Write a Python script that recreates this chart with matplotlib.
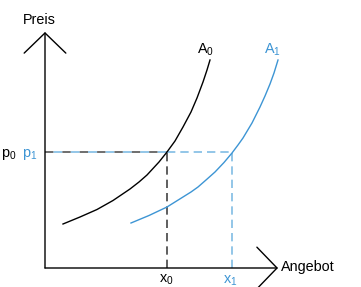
import matplotlib
matplotlib.use("Agg")
import matplotlib.pyplot as plt
import numpy as np

plt.rcParams['font.family'] = ['Liberation Sans', 'DejaVu Sans']
plt.rcParams['mathtext.fontset'] = 'custom'
plt.rcParams['mathtext.rm'] = 'Liberation Sans'
plt.rcParams['mathtext.it'] = 'Liberation Sans'
plt.rcParams['lines.scale_dashes'] = False

# supply curves (quantity, price)
a0_q = [18, 35, 52, 68, 85, 94, 102, 108, 114, 122, 130, 138, 146, 152, 158, 162, 165]
a0_p = [44, 51, 58.5, 67.5, 79, 86, 93, 99.5, 106, 116, 127, 141, 156, 170, 186, 198, 208]
a1_q = [86, 104, 122, 138, 146, 153, 161, 170, 179, 187, 193, 198, 207, 215, 220, 225, 229, 233]
a1_p = [45, 52.5, 61, 71, 76, 81, 88, 96, 105.5, 115, 123, 130, 145, 161, 172, 184, 195, 208]

# equilibrium values
p_star = 116
x0 = 122
x1 = 187

q_max = 233
p_max = 236

blue = '#3d95d4'
light_blue = '#93c6e8'
gray = '#6e6e6e'
dark = '#333333'

fig = plt.figure(figsize=(3.61, 2.87), dpi=100)
ax = fig.add_axes([0, 0, 1, 1])
ax.set_xlim(-45, 316)
ax.set_ylim(-19, 268)
ax.axis('off')

# axes with open arrow heads
arrow = dict(arrowstyle='->,head_length=1.45,head_width=1.5', mutation_scale=10,
             lw=1.0, color='black', shrinkA=0, shrinkB=0)
ax.annotate('', xy=(0, p_max), xytext=(0, 0), arrowprops=arrow)
ax.annotate('', xy=(q_max, 0), xytext=(0, 0), arrowprops=arrow)

# guide lines
ax.plot([0, x0], [p_star, p_star], color=gray, lw=1.4, linestyle=(0, (6, 6.5)),
        gapcolor=light_blue)
ax.plot([x0, x1], [p_star, p_star], color=light_blue, lw=1.4, linestyle=(0, (6, 3.6)))
ax.plot([x1, x1], [0, p_star], color=light_blue, lw=1.4, linestyle=(0, (6, 3.6)))
ax.plot([x0, x0], [0, p_star], color=dark, lw=1.1, linestyle=(0, (6, 3.6)))

# curves
ax.plot(a0_q, a0_p, color='black', lw=1.0)
ax.plot(a1_q, a1_p, color=blue, lw=1.0)

fs = 10.4
ax.text(-6, 248, 'Preis', fontsize=fs, ha='center', va='center')
ax.text(q_max + 3, 1, 'Angebot', fontsize=fs, ha='left', va='center')
ax.text(160, 218, r'$\mathregular{A_0}$', fontsize=fs, ha='center', va='center')
ax.text(227, 218, r'$\mathregular{A_1}$', fontsize=fs, ha='center', va='center', color=blue)
ax.text(x0 - 1, -12, r'$\mathregular{x_0}$', fontsize=fs, ha='center', va='center')
ax.text(x1 - 2, -12.5, r'$\mathregular{x_1}$', fontsize=fs, ha='center', va='center', color=blue)
ax.text(-44, p_star - 3, r'$\mathregular{p_0}$', fontsize=fs, ha='left', va='center')
ax.text(-23, p_star - 3, r'$\mathregular{p_1}$', fontsize=fs, ha='left', va='center', color=blue)

fig.savefig('out.png', dpi=100)
